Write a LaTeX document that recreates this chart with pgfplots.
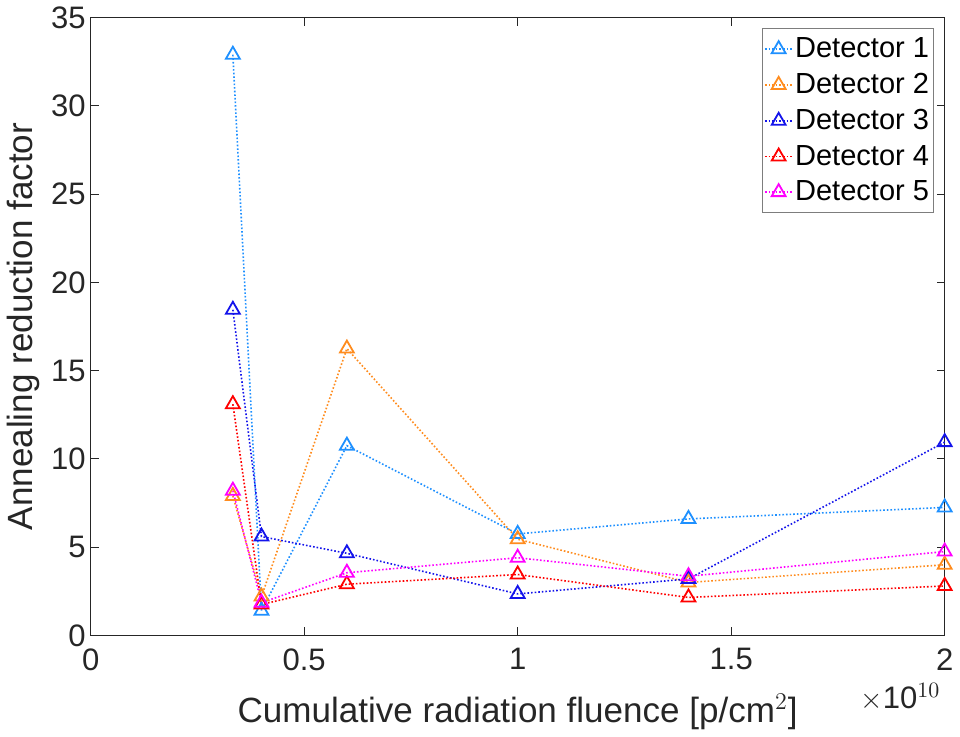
\documentclass[border=0pt]{standalone}
\usepackage{fontspec}
\setmainfont{Liberation Sans}
\usepackage{pgfplots}
\pgfplotsset{compat=1.18}

\definecolor{det1}{RGB}{30,144,255}
\definecolor{det2}{RGB}{255,140,30}
\definecolor{det3}{RGB}{20,20,235}
\definecolor{det4}{RGB}{255,0,0}
\definecolor{det5}{RGB}{255,0,255}
\definecolor{axgray}{RGB}{38,38,38}

\begin{document}
\begin{tikzpicture}
\begin{axis}[
  width=426.5pt, height=308.5pt,
  scale only axis,
  xmin=0, xmax=2, ymin=0, ymax=35,
  xtick={0,0.5,1,1.5,2},
  xticklabels={0,0.5,1,1.5,2},
  ytick={0,5,...,35},
  tick align=inside,
  major tick length=4pt,
  axis line style={axgray, line width=0.5pt},
  every tick/.style={axgray, line width=0.5pt},
  tick label style={font=\fontsize{15.5}{18}\selectfont, text=axgray},
  xticklabel style={yshift=-3pt},
  yticklabel style={xshift=1pt},
  /pgf/number format/assume math mode=true,
  xlabel={Cumulative radiation fluence [p/cm$^2$]},
  ylabel={Annealing reduction factor},
  label style={font=\fontsize{17.5}{20}\selectfont, text=axgray},
  xlabel style={yshift=-5pt},
  ylabel style={yshift=-1pt},
  legend style={
    at={(rel axis cs:0.987,0.983)}, anchor=north east,
    font=\fontsize{14.5}{17}\selectfont,
    draw=axgray!60, line width=0.5pt,
    row sep=2.3pt, inner xsep=1pt, inner ysep=2.5pt,
    nodes={inner xsep=1pt},
  },
  legend cell align=left,
  legend image code/.code={
    \draw[mark repeat=2, mark phase=2, #1] plot coordinates {(0cm,0cm) (0.24cm,0cm) (0.48cm,0cm)};
  },
  every axis plot/.append style={densely dotted, line width=0.8pt, mark=triangle, mark size=4pt, mark options={solid, line width=0.9pt}},
  clip=false,
]
\addplot[det1] coordinates {(0.333,32.9) (0.4,1.4) (0.6,10.75) (1.0,5.75) (1.4,6.6) (2.0,7.25)};
\addlegendentry{Detector 1}
\addplot[det2] coordinates {(0.333,7.9) (0.4,2.2) (0.6,16.25) (1.0,5.45) (1.4,3.0) (2.0,4.0)};
\addlegendentry{Detector 2}
\addplot[det3] coordinates {(0.333,18.45) (0.4,5.6) (0.6,4.65) (1.0,2.35) (1.4,3.2) (2.0,10.95)};
\addlegendentry{Detector 3}
\addplot[det4] coordinates {(0.333,13.1) (0.4,1.75) (0.6,2.9) (1.0,3.45) (1.4,2.15) (2.0,2.8)};
\addlegendentry{Detector 4}
\addplot[det5] coordinates {(0.333,8.2) (0.4,1.85) (0.6,3.55) (1.0,4.4) (1.4,3.35) (2.0,4.75)};
\addlegendentry{Detector 5}
\node[anchor=north east, text=axgray, font=\fontsize{15.5}{18}\selectfont, inner sep=0pt] at ([xshift=-2pt,yshift=-24pt]rel axis cs:1,0) {$\times$10$^{10}$};
\end{axis}
\end{tikzpicture}
\end{document}
